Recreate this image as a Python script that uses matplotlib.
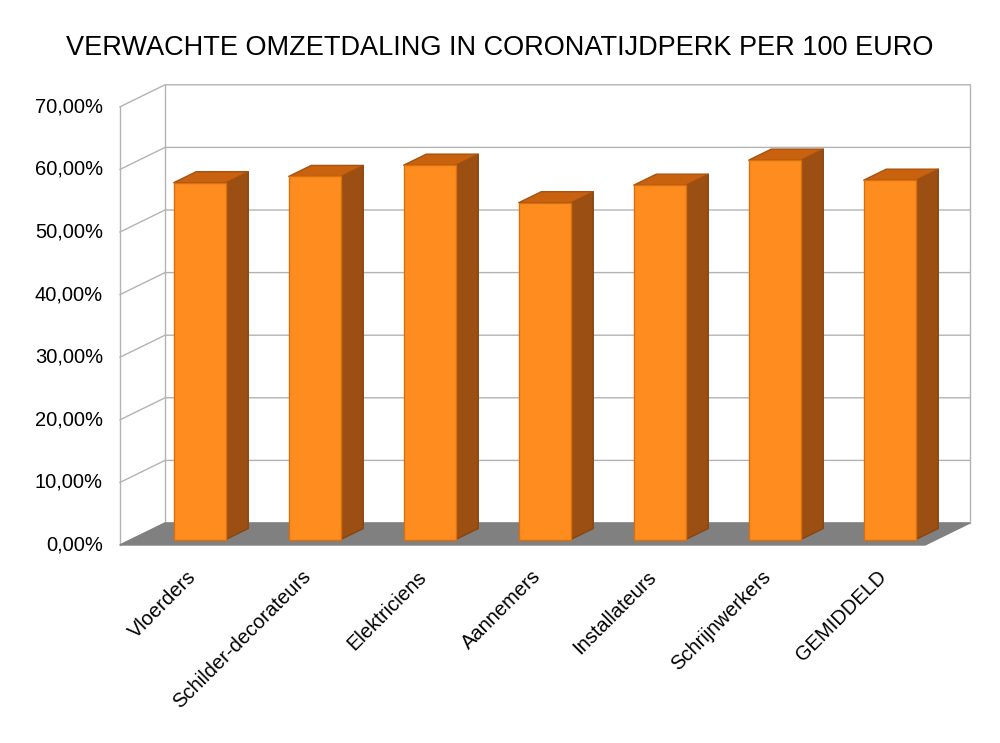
import matplotlib
matplotlib.use("Agg")
import matplotlib.pyplot as plt
from matplotlib.patches import Polygon

title = "VERWACHTE OMZETDALING IN CORONATIJDPERK PER 100 EURO"
categories = ["Vloerders", "Schilder-decorateurs", "Elektriciens", "Aannemers",
              "Installateurs", "Schrijnwerkers", "GEMIDDELD"]
values = [57.0, 58.0, 59.8, 53.8, 56.6, 60.6, 57.4]
yticks = [0, 10, 20, 30, 40, 50, 60, 70]
ytick_labels = ["0,00%", "10,00%", "20,00%", "30,00%", "40,00%", "50,00%", "60,00%", "70,00%"]

plt.rcParams["font.family"] = "Liberation Sans"
fig = plt.figure(figsize=(10, 7.43), dpi=100)
ax = fig.add_axes([0, 0, 1, 1])
ax.set_xlim(0, 1000); ax.set_ylim(743, 0); ax.axis("off")

X0, X1, Y0, PPU = 120, 925, 545, 6.26
DX, DY = 45, -22
n = len(categories)
slot = (X1 - X0) / n

def P(x, v, d):
    return (x + d * DX, Y0 - v * PPU + d * DY)

grid = "#b3b3b3"
# floor
ax.add_patch(Polygon([P(X0,0,0), P(X1,0,0), P(X1,0,1), P(X0,0,1)], closed=True, fc="#808080", ec="#808080", zorder=1))
# walls gridlines
for t in yticks:
    ax.plot(*zip(P(X0,t,0), P(X0,t,1), P(X1,t,1)), color=grid, lw=1, zorder=0)
ax.plot(*zip(P(X0,0,0), P(X0,70,0)), color=grid, lw=1, zorder=0)
ax.plot(*zip(P(X0,0,1), P(X0,70,1)), color=grid, lw=1, zorder=0)
ax.plot(*zip(P(X1,0,1), P(X1,70,1)), color=grid, lw=1, zorder=0)
for t, lab in zip(yticks, ytick_labels):
    x, y = P(X0, t, 0)
    ax.text(x - 17, y, lab, ha="right", va="center", fontsize=14.5)

bw = 52
d0, d1 = 0.25, 0.75
for i, (c, v) in enumerate(zip(categories, values)):
    xc = X0 + slot * (i + 0.5) + 11
    xl, xr = xc - bw / 2, xc + bw / 2
    side = [P(xr,0,d0), P(xr,0,d1), P(xr,v,d1), P(xr,v,d0)]
    top = [P(xl,v,d0), P(xr,v,d0), P(xr,v,d1), P(xl,v,d1)]
    front = [P(xl,0,d0), P(xr,0,d0), P(xr,v,d0), P(xl,v,d0)]
    ax.add_patch(Polygon(side, closed=True, fc="#9c4f12", ec="#8a4510", lw=1, zorder=3, joinstyle="round"))
    ax.add_patch(Polygon(top, closed=True, fc="#c8620f", ec="#a85210", lw=1, zorder=3, joinstyle="round"))
    ax.add_patch(Polygon(front, closed=True, fc="#ff8c1f", ec="#d9700f", lw=1, zorder=4, joinstyle="round"))
    lx, ly = P(xc, 0, 0)
    ax.text(lx - 2, ly + 22, c, ha="right", va="top", rotation=45, rotation_mode="anchor", fontsize=14.5)

ax.text(500, 48, title, ha="center", va="center", fontsize=19.5)
fig.savefig("out.png", dpi=100)
